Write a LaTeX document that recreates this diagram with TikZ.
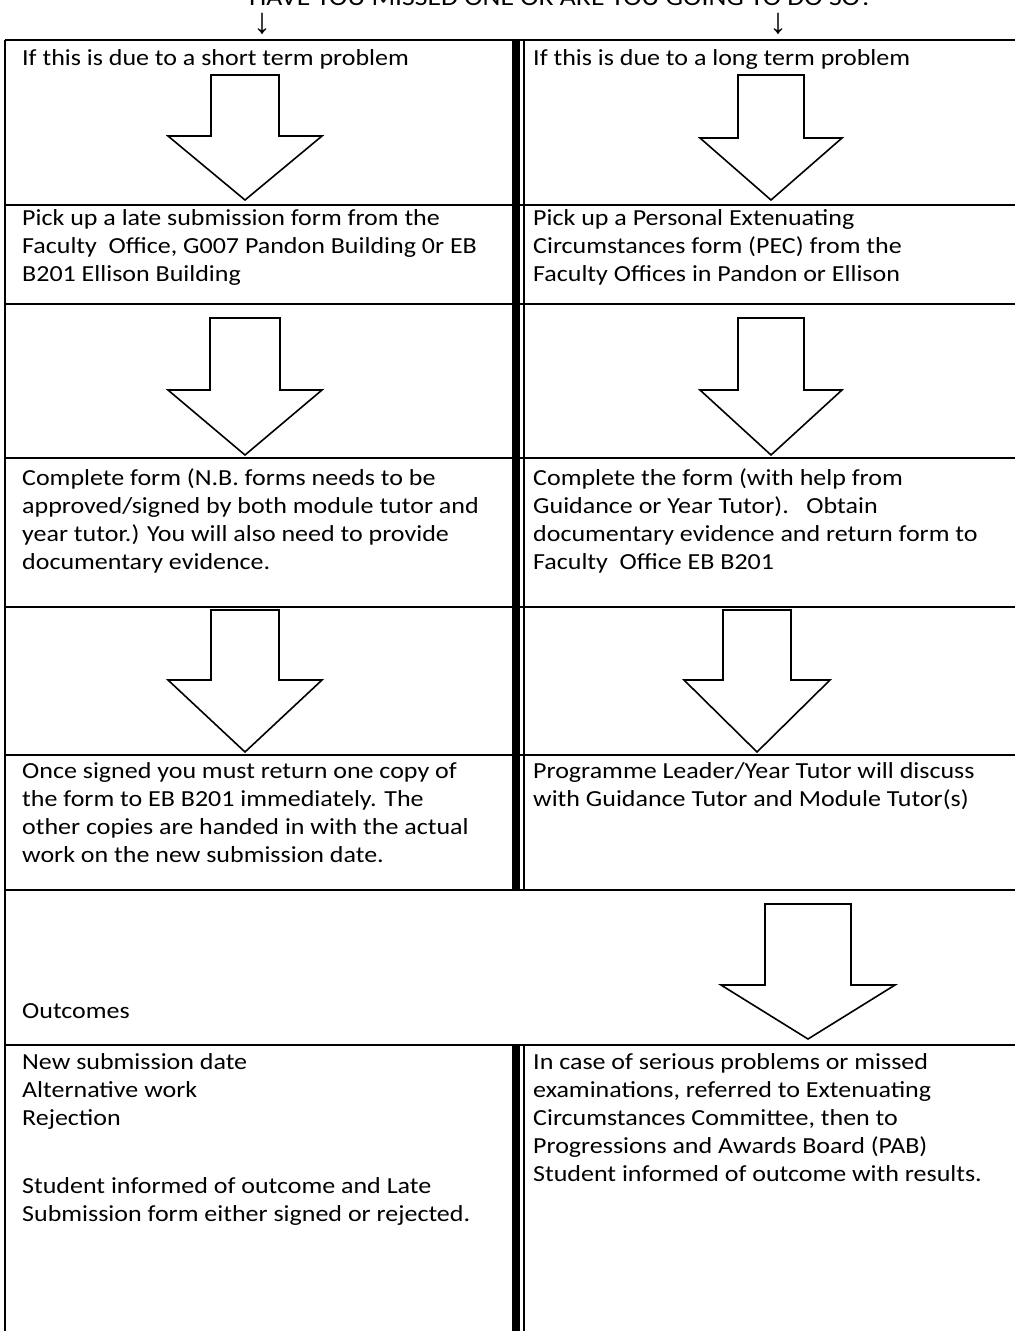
\documentclass[tikz,border=0pt]{standalone}
\usepackage{fontspec}
\setmainfont{Carlito}[FakeStretch=1.13]
\newfontfamily\arrowfont{Liberation Sans}
\usetikzlibrary{calc}
% block arrow: (centre x, top y)(shaft half width:head half width:head start:tip)
\def\blockarrow(#1,#2)(#3:#4:#5:#6){\draw[line width=1.6pt, line join=miter, fill=white] (#1-#3,#2) -- (#1+#3,#2) -- (#1+#3,#5) -- (#1+#4,#5) -- (#1,#6) -- (#1-#4,#5) -- (#1-#3,#5) -- cycle;}
\tikzset{
  gridline/.style={line width=2.4pt},
  splitline/.style={line width=1.6pt},
  cell/.style={anchor=north west, inner sep=0pt, align=left, font=\fontsize{23}{28}\selectfont, execute at begin node=\strut},
  titletext/.style={anchor=base, inner sep=0pt, font=\fontsize{24.5}{28}\selectfont},
  pointer/.style={anchor=south, inner sep=0pt, text height=18pt, font=\arrowfont\fontsize{36}{40}\selectfont}
}

\begin{document}
\begin{tikzpicture}[x=1pt,y=-1pt]
		%%%%% START %%%%%
		\useasboundingbox (0,0) rectangle (1015,1331);
		\clip (0,0) rectangle (1015,1331);
		
		\node[titletext] (title) at (561,5) {HAVE YOU MISSED ONE OR ARE YOU GOING TO DO SO?};
		\node[pointer] (pickL) at (262,35) {↓};
		\node[pointer] (pickR) at (778,35) {↓};
		
		% table rules
		\draw[gridline] (5,40) -- (1015,40);
		\foreach \y in {205,304,458,607,755,890,1045}
			\draw[gridline] (5,\y) -- (1015,\y);
		\draw[gridline] (5,40) -- (5,1331);
		\fill[black] (512,40) rectangle (520,890);
		\draw[splitline] (524,40) -- (524,890);
		\fill[black] (512,1045) rectangle (520,1331);
		\draw[splitline] (524,1045) -- (524,1331);
		
		% short term column
		\node[cell] (short1) at (22,45.4) {If this is due to a short term problem};
		\blockarrow(245,75)(34:77:136:200);
		\node[cell] (short2) at (22,209.4) {Pick up a late submission form from the\\Faculty\ \ Office, G007 Pandon Building 0r EB\\B201 Ellison Building};
		\blockarrow(245,318)(35:77:390:455);
		\node[cell] (short3) at (22,468.4) {Complete form (N.B. forms needs to be\\approved/signed by both module tutor and\\year tutor.) You will also need to provide\\documentary evidence.};
		\blockarrow(245,610)(34:77:680:752);
		\node[cell] (short4) at (22,762.4) {Once signed you must return one copy of\\the form to EB B201 immediately. The\\other copies are handed in with the actual\\work on the new submission date.};
		
		% long term column
		\node[cell] (long1) at (533,45.4) {If this is due to a long term problem};
		\blockarrow(771,75)(33:71:138:200);
		\node[cell] (long2) at (533,209.4) {Pick up a Personal Extenuating\\Circumstances form (PEC) from the\\Faculty Offices in Pandon or Ellison};
		\blockarrow(771,318)(33:71:390:455);
		\node[cell] (long3) at (533,468.4) {Complete the form (with help from\\Guidance or Year Tutor).\ \ \ Obtain\\documentary evidence and return form to\\Faculty\ \ Office EB B201};
		\blockarrow(757,610)(34:73:680:752);
		\node[cell] (long4) at (533,762.4) {Programme Leader/Year Tutor will discuss\\with Guidance Tutor and Module Tutor(s)};
		
		% outcomes
		\blockarrow(808,904)(43:87:985:1039);
		\node[cell] (outcomes) at (22,998.4) {Outcomes};
		\node[cell] (shortout) at (22,1053.4) {New submission date\\Alternative work\\Rejection\\[40pt]Student informed of outcome and Late\\Submission form either signed or rejected.};
		\node[cell] (longout) at (533,1053.4) {In case of serious problems or missed\\examinations, referred to Extenuating\\Circumstances Committee, then to\\Progressions and Awards Board (PAB)\\Student informed of outcome with results.};
		%%%%% END %%%%%
	\end{tikzpicture}
\end{document}
